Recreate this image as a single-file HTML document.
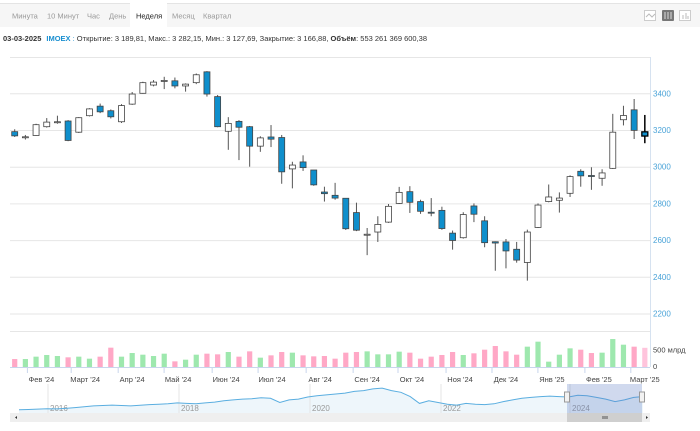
<!DOCTYPE html>
<html><head><meta charset="utf-8">
<style>
body{margin:0;width:700px;height:431px;overflow:hidden;background:#fff;font-family:"Liberation Sans",sans-serif}
svg{display:block}
text{font-family:"Liberation Sans",sans-serif}
</style></head>
<body>
<svg id="chart" width="700" height="431" viewBox="0 0 700 431">
  <rect x="0" y="3" width="700" height="24" fill="#f6f6f6"/>
  <line x1="0" y1="3.5" x2="700" y2="3.5" stroke="#e4e4e4"/>
  <rect x="130" y="3" width="37" height="24" fill="#fff"/>
  <g font-size="7.5" fill="#999">
    <text x="12" y="18.5">Минута</text>
    <text x="47" y="18.5">10 Минут</text>
    <text x="87" y="18.5">Час</text>
    <text x="109" y="18.5">День</text>
    <text x="136" y="18.5" fill="#222">Неделя</text>
    <text x="172" y="18.5">Месяц</text>
    <text x="203" y="18.5">Квартал</text>
  </g>
  <g><rect x="644.5" y="10.5" width="11" height="10" fill="#fff" stroke="#ccc"/><path d="M646 17 L649 14 L652 17 L655 14" fill="none" stroke="#bbb"/></g>
  <g><rect x="662" y="10" width="12" height="11" fill="#777" rx="1"/><path d="M665 12v7M668 12v7M671 12v7" stroke="#ddd"/></g>
  <g><rect x="679.5" y="10.5" width="11" height="10" fill="#fff" stroke="#ccc"/><path d="M683 19v-4M686 19v-6M688 19v-3" stroke="#bbb"/></g>
  <text x="3" y="41" font-size="7.5" fill="#333"><tspan font-weight="bold">03-03-2025</tspan><tspan fill="#1a8fd0" font-weight="bold" dx="5">IMOEX</tspan><tspan fill="#1a8fd0"> :</tspan> Открытие: 3 189,81, Макс.: 3 282,15, Мин.: 3 127,69, Закрытие: 3 166,88, <tspan font-weight="bold">Объём</tspan>: 553 261 369 600,38</text>

  <line x1="10" y1="57.5" x2="650" y2="57.5" stroke="#e6e6e6"/>
  <line x1="650.5" y1="57" x2="650.5" y2="367" stroke="#d6e2f0"/>
  <g id="grid"></g>
  <g id="candles"></g>
  <line x1="10" y1="331.5" x2="650" y2="331.5" stroke="#e6e6e6"/>
  <g id="vols"></g>
  <line x1="10" y1="367.5" x2="650" y2="367.5" stroke="#c8d6ec"/>
  <g id="xaxis"></g>
  <g id="nav"></g>
</svg>
<script>
const NS="http://www.w3.org/2000/svg";
const opens =[3191,3160,3170,3218,3243,3249,3188,3278,3330,3305,3245,3341,3400,3445,3466,3468,3440,3458,3517,3382,3193,3247,3218,3112,3162,3159,2988,3026,2982,2862,2844,2828,2750,2628,2644,2698,2800,2864,2810,2752,2762,2638,2613,2786,2705,2591,2590,2550,2478,2669,2810,2817,2855,2975,2952,2937,2991,3256,3310,3190];
const highs =[3204,3173,3234,3265,3278,3254,3270,3319,3344,3312,3341,3407,3463,3472,3490,3486,3454,3508,3521,3391,3270,3254,3222,3166,3227,3173,3027,3062,2982,2891,2912,2828,2804,2666,2730,2797,2890,2894,2820,2829,2782,2652,2752,2800,2730,2593,2606,2590,2657,2800,2903,2860,2953,2986,2997,2986,3288,3332,3369,3282];
const lows  =[3162,3148,3168,3213,3234,3139,3184,3274,3292,3263,3238,3337,3398,3438,3423,3427,3409,3450,3382,3215,3092,3036,3000,3081,3107,2907,2882,2977,2896,2810,2820,2655,2649,2518,2590,2694,2797,2748,2743,2730,2656,2548,2608,2698,2561,2433,2446,2477,2379,2666,2806,2750,2835,2891,2874,2896,2988,3225,3151,3128];
const closes=[3168,3163,3229,3243,3245,3143,3267,3315,3299,3272,3333,3396,3458,3461,3470,3440,3450,3501,3396,3218,3236,3215,3112,3157,3150,2972,3009,2995,2901,2853,2829,2662,2654,2632,2685,2784,2860,2806,2757,2748,2663,2598,2739,2741,2586,2584,2541,2491,2644,2791,2835,2829,2946,2950,2950,2966,3188,3279,3198,3167];
const volumes=[230,230,298,346,317,279,298,240,298,557,298,403,355,317,384,163,211,355,384,365,432,298,451,269,336,432,413,336,307,317,240,413,432,451,365,365,442,413,240,298,346,432,346,394,499,605,451,355,586,730,154,355,538,499,403,413,806,643,586,553];
const priceTicks=[2200,2400,2600,2800,3000,3200,3400];
const monthLabels=["Фев '24","Март '24","Апр '24","Май '24","Июн '24","Июл '24","Авг '24","Сен '24","Окт '24","Ноя '24","Дек '24","Янв '25","Фев '25","Март '25"];
const monthIdx=[2.5,6.6,11,15.3,19.8,24.1,28.6,33,37.2,41.7,46,50.3,54.7,59];
const navYears=["2016","2018","2020","2022","2024"];
const navValues=[1650,1680,1720,1760,1750,1800,1900,2000,2100,2150,2200,2150,2100,2180,2250,2300,2350,2450,2400,2350,2450,2550,2700,2800,2900,2950,3050,3000,2500,2800,2900,3150,3300,3400,3500,3600,3800,3900,4100,4200,3900,3700,3200,2400,2700,2500,2300,2200,2400,2300,2250,2350,2600,2800,3000,3100,3200,3250,3200,3150,3350,3300,3100,2900,2600,2800,3100,3200];

const X=i=>14.7+i*10.68;
const Y=v=>93.3+(3400-v)*0.1835;
const VY=v=>367-v*0.0347;
const mk=(tag,attrs,parent)=>{const e=document.createElementNS(NS,tag);for(const k in attrs)e.setAttribute(k,attrs[k]);document.getElementById(parent).appendChild(e);return e;};

priceTicks.forEach(t=>{
  const l=mk('line',{x1:10,x2:650,y1:Y(t)+0.5,y2:Y(t)+0.5,stroke:'#e6e6e6'},'grid');
  
  
  const tx=mk('text',{x:653,y:Y(t)+3,'font-size':8,fill:'#4aa3d8'},'grid');
  tx.textContent=t;
  
  
});
const vl=mk('text',{x:653,y:VY(500)+3,'font-size':7.5,fill:'#444'},'grid');vl.textContent='500 млрд';


const v0=mk('text',{x:653,y:VY(0)+2,'font-size':7.5,fill:'#444'},'grid');v0.textContent='0';



opens.forEach((o,i)=>{
  const c=closes[i],x=X(i),down=o>c,last=i===opens.length-1;
  const g=mk('g',{},'candles');
  
  
  const sc=last?'#000':'#555';
  const w=document.createElementNS(NS,'line');
  w.setAttribute('x1',x);w.setAttribute('x2',x);w.setAttribute('y1',Y(highs[i]));w.setAttribute('y2',Y(lows[i]));w.setAttribute('stroke',sc);w.setAttribute('stroke-width',last?1.5:1);
  g.appendChild(w);
  const top=Y(Math.max(o,c)),h=Math.max(1,Y(Math.min(o,c))-top);
  const r=document.createElementNS(NS,'rect');
  r.setAttribute('x',x-3);r.setAttribute('y',top);r.setAttribute('width',6);r.setAttribute('height',h);
  r.setAttribute('fill',down?'#0f8fcc':'#fff');r.setAttribute('stroke',last?'#000':'#444');r.setAttribute('stroke-width',last?1.3:0.8);
  g.appendChild(r);
  const vb=mk('rect',{x:X(i)-2.6,y:VY(volumes[i]),width:5.2,height:volumes[i]*0.0347,fill:last?'#ffc4dc':(down?'#ffa8c6':'#9ee8ae')},'vols');
  
  
});

monthLabels.forEach((m,i)=>{
  const x=X(monthIdx[i]);
  mk('line',{x1:x-14,x2:x-14,y1:368,y2:373,stroke:'#c8d6ec'},'xaxis');
  const t=mk('text',{x:x,y:382,'font-size':7.5,fill:'#444','text-anchor':'middle'},'xaxis');
  t.textContent=m;
  
  
});

// navigator
mk('rect',{x:10,y:384,width:640,height:29,fill:'#fff'},'nav');
const nx=i=>19+i*(624/(navValues.length-1));
const ny=v=>411-(v-1500)*0.0085;
let d='';navValues.forEach((v,i)=>{d+=(i?'L':'M')+nx(i).toFixed(1)+' '+ny(v).toFixed(1);});
mk('path',{d:d+'L'+nx(navValues.length-1)+' 413L19 413Z',fill:'#eef6fb'},'nav');
const yearX=[48,179,310,441,570];
navYears.forEach((yr,i)=>{
  mk('line',{x1:yearX[i],x2:yearX[i],y1:384,y2:413,stroke:'#e4e4e4'},'nav');
  const t=mk('text',{x:yearX[i]+2,y:411,'font-size':8,fill:'#999'},'nav');t.textContent=yr;
  
  
});
const nl=mk('path',{d:d,fill:'none',stroke:'#5aaee0','stroke-width':1},'nav');


const sel=mk('rect',{x:567,y:384,width:75,height:29,fill:'rgba(100,130,200,0.3)'},'nav');


[567,642].forEach(x=>{const h=mk('rect',{x:x-2.5,y:392,width:5,height:10,fill:'#f2f2f2',stroke:'#999'},'nav');

});
const sb=mk('rect',{x:10,y:413,width:640,height:9,fill:'#efefef'},'nav');


const th=mk('rect',{x:567,y:413,width:75,height:9,fill:'#cfcfcf'},'nav');


mk('path',{d:'M603 416v3M605 416v3M607 416v3',stroke:'#555'},'nav');
mk('path',{d:'M15 417.5l2-1.5v3z M646 416v3l2-1.5z',fill:'#333'},'nav');
</script>
</body></html>
